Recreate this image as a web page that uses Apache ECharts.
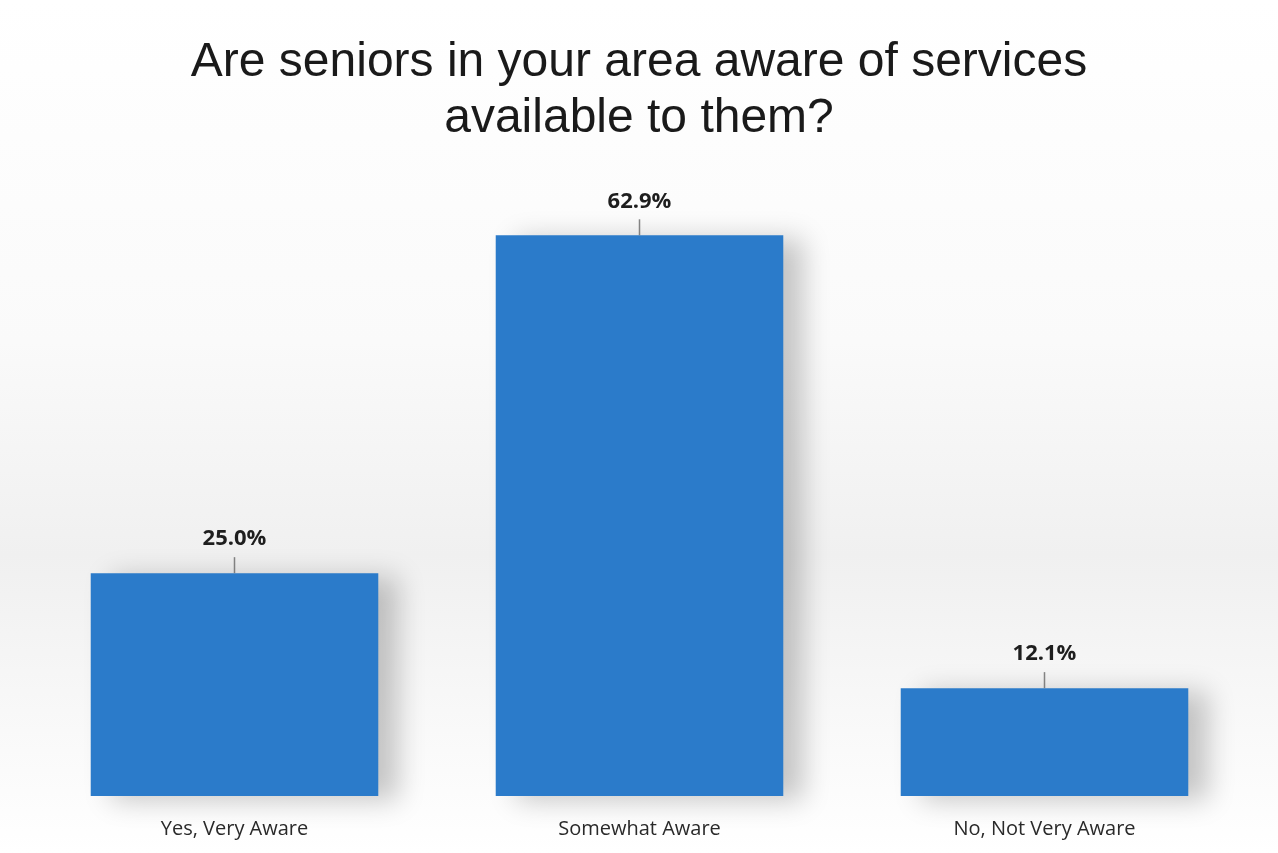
<!DOCTYPE html>
<html lang="en">
<head>
  <meta charset="UTF-8">
  <title>Seniors awareness</title>
  <script src="https://cdn.jsdelivr.net/npm/echarts@6/dist/echarts.min.js"></script>
  <style>
    html, body { margin: 0; padding: 0; background: #fff; }
    #chart { width: 1278px; height: 853px; }
  </style>
</head>
<body>
  <div id="chart"></div>
  <script type="text/javascript">
    const categories = ['Yes, Very Aware', 'Somewhat Aware', 'No, Not Very Aware'];
    const percents = [25.0, 62.9, 12.1];
    const titleText = 'Are seniors in your area aware of services\navailable to them?';

    const myChart = echarts.init(document.getElementById('chart'));

    const option = {
      backgroundColor: {
        type: 'linear', x: 0, y: 0, x2: 0, y2: 1,
        colorStops: [
          { offset: 0, color: '#ffffff' },
          { offset: 0.4, color: '#fafafa' },
          { offset: 0.65, color: '#f0f0f0' },
          { offset: 0.88, color: '#fafafa' },
          { offset: 1, color: '#ffffff' },
        ],
      },
      title: {
        text: titleText,
        left: 'center',
        top: 30,
        textStyle: {
          fontFamily: 'Liberation Sans',
          fontWeight: 'normal',
          fontSize: 48,
          lineHeight: 56,
          color: '#1a1a1a',
        },
      },
      grid: { left: 32, right: 31, top: 172, bottom: 57 },
      xAxis: {
        type: 'category',
        data: categories,
        axisLine: { show: false },
        axisTick: { show: false },
        axisLabel: {
          margin: 23,
          fontFamily: 'Open Sans',
          fontSize: 20,
          color: '#2a2a2a',
        },
      },
      yAxis: {
        type: 'value',
        min: 0,
        max: 70,
        show: false,
        splitLine: { show: false },
      },
      series: [
        {
          type: 'bar',
          data: percents,
          barWidth: '71%',
          itemStyle: {
            color: '#2b7bca',
            shadowColor: 'rgba(0,0,0,0.22)',
            shadowBlur: 26,
            shadowOffsetX: 20,
            shadowOffsetY: 4,
          },
          label: {
            show: true,
            position: 'top',
            distance: 23,
            formatter: (p) => p.value.toFixed(1) + '%',
            fontFamily: 'Open Sans',
            fontWeight: 'bold',
            fontSize: 22,
            color: '#1e1e1e',
          },
          z: 2,
        },
        {
          // small leader ticks between label and bar
          type: 'scatter',
          data: percents,
          symbol: 'rect',
          symbolSize: [1.5, 16],
          symbolOffset: [0, -8],
          itemStyle: { color: '#666' },
          silent: true,
          z: 3,
        },
      ],
    };
    myChart.setOption(option);
  </script>
</body>
</html>
